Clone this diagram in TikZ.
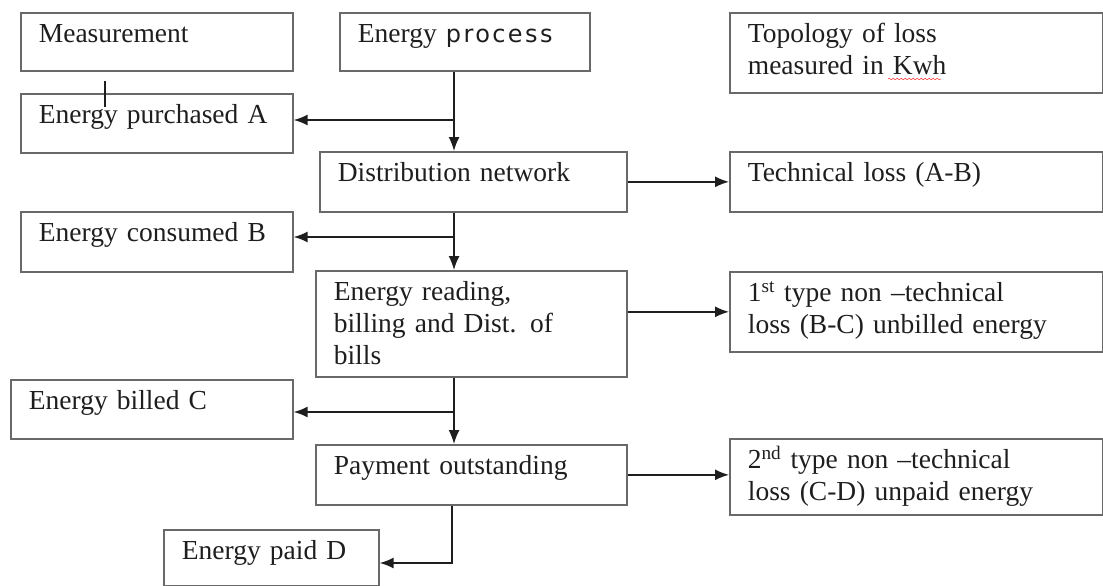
\documentclass[tikz,border=0pt]{standalone}
\usepackage{fontspec}
\setmainfont{Liberation Serif}
\newfontfamily\procfont[LetterSpace=10]{DejaVu Sans}
\usetikzlibrary{arrows,shapes,positioning,decorations.pathmorphing}
\usetikzlibrary{arrows.meta}
\definecolor{boxgray}{RGB}{105,105,105}
\definecolor{inkgray}{RGB}{30,30,30}
\tikzstyle{stepbox}=[draw=boxgray, line width=1.7pt, anchor=north west, inner xsep=18pt, inner ysep=10pt, text height=20pt, align=left, text=inkgray, font=\fontsize{27.5pt}{32pt}\selectfont]
\tikzstyle{flow}=[draw=inkgray, line width=1.5pt, -{Latex[length=14pt,width=11pt]}]

\begin{document}
\begin{tikzpicture}[x=1pt, y=-1pt]
    \useasboundingbox (0,0) rectangle (1103,586);

    % Boxes
    \node[stepbox, text width=236pt, text depth=18pt] (meas) at (20,12) {Measurement};
    \node[stepbox, text width=214pt, text depth=18pt] (proc) at (339,12) {Energy {\procfont\fontsize{24pt}{32pt}\selectfont process}};
    \node[stepbox, text width=337pt, text depth=40pt] (topo) at (729,12) {Topology of loss\\ measured in Kwh};
    \node[stepbox, text width=236pt, text depth=19pt] (purch) at (20,93) {Energy purchased A};
    \node[stepbox, text width=271pt, text depth=20pt] (dist) at (319,151) {Distribution network};
    \node[stepbox, text width=337pt, text depth=20pt] (tech) at (729,151) {Technical loss (A-B)};
    \node[stepbox, text width=236pt, text depth=20pt] (cons) at (20,211) {Energy consumed B};
    \node[stepbox, text width=275pt, text depth=66pt] (read) at (315,270) {Energy reading,\\ billing and Dist. of\\ bills};
    \node[stepbox, text width=337pt, text depth=40pt] (type1) at (729,271) {1\textsuperscript{st} type non –technical\\ loss (B-C) unbilled energy};
    \node[stepbox, text width=246pt, text depth=19pt] (billed) at (10,379) {Energy billed C};
    \node[stepbox, text width=275pt, text depth=20pt] (pay) at (315,444) {Payment outstanding};
    \node[stepbox, text width=337pt, text depth=36pt] (type2) at (729,438) {2\textsuperscript{nd} type non –technical\\ loss (C-D) unpaid energy};
    \node[stepbox, text width=179pt, text depth=16pt] (paid) at (163,529) {Energy paid D};

    % Junctions
    \coordinate (j1) at (454,120);
    \coordinate (j2) at (454,237);
    \coordinate (j3) at (454,412);
    \coordinate (j4) at (452,563);

    % Arrows
    \draw[flow] (proc.south -| j1) -- (dist.north -| j1);
    \draw[flow] (j1) -- (purch.east |- j1);
    \draw[flow] (dist.south -| j2) -- (read.north -| j2);
    \draw[flow] (j2) -- (cons.east |- j2);
    \draw[flow] (read.south -| j3) -- (pay.north -| j3);
    \draw[flow] (j3) -- (billed.east |- j3);
    \draw[flow] (pay.south -| j4) -- (j4) -- (paid.east |- j4);
    \draw[flow] (dist.east) -- (tech.west);
    \draw[flow] (read.east |- type1.west) -- (type1.west);
    \draw[flow] (pay.east) -- (pay.east -| type2.west);

    % Tick and spelling mark
    \draw[inkgray, line width=1.5pt] (105,81) -- (105,107);
    \draw[red!70, line width=0.6pt, decorate, decoration={snake, amplitude=0.8pt, segment length=4pt}] (888,79) -- (941,79);

\end{tikzpicture}
\end{document}
